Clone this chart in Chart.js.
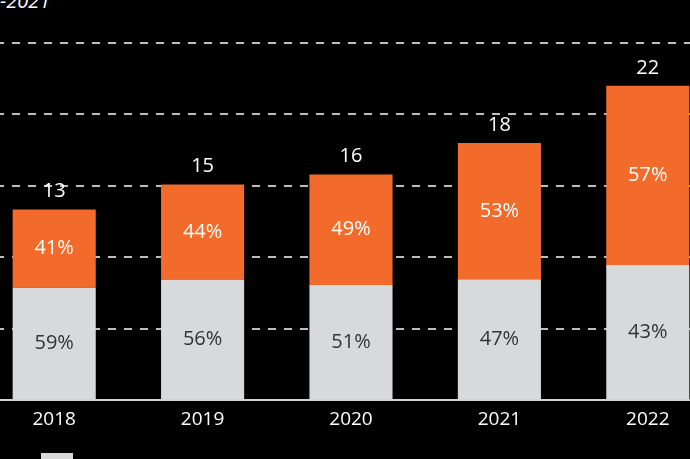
<!DOCTYPE html>
<html lang="en">
<head>
  <title>Stacked shares</title>
  <script src="https://cdn.jsdelivr.net/npm/chart.js"></script>
  <style>
    html, body { margin: 0; padding: 0; background: #000; overflow: hidden; }
    #wrap { position: relative; width: 690px; height: 459px; overflow: hidden; }
    #chartBox { position: absolute; left: -20px; top: 0; width: 742px; height: 459px; }
    #period { position: absolute; left: 0; top: -13px; color: #fff; font: italic 20px "Open Sans", sans-serif; line-height: 27px; }
    #legendBox { position: absolute; left: 41px; top: 453px; width: 32px; height: 20px; background: #d9d9d9; }
  </style>
</head>
<body>
  <div id="wrap">
    <div id="period">-2021</div>
    <div id="chartBox"><canvas id="myChart" width="742" height="459"></canvas></div>
    <div id="legendBox"></div>
  </div>
  <script>
    const years = ['2018', '2019', '2020', '2021', '2022'];
    const totals = [13.35, 15.1, 15.8, 18.0, 22.0];
    const totalLabels = ['13', '15', '16', '18', '22'];
    const greyShare = [59, 56, 51, 47, 43];
    const orangeShare = [41, 44, 49, 53, 57];

    const greyValues = totals.map((t, i) => t * greyShare[i] / 100);
    const orangeValues = totals.map((t, i) => t * orangeShare[i] / 100);

    const labelFont = '20px "Open Sans", sans-serif';

    // draws the percentages inside the segments and the totals on top
    const barLabels = {
      id: 'barLabels',
      afterDatasetsDraw(chart) {
        const ctx = chart.ctx;
        ctx.save();
        ctx.font = labelFont;
        ctx.textAlign = 'center';
        ctx.textBaseline = 'middle';
        const shares = [greyShare, orangeShare];
        const colors = ['#333333', '#ffffff'];
        chart.data.datasets.forEach((ds, d) => {
          chart.getDatasetMeta(d).data.forEach((bar, i) => {
            const p = bar.getProps(['x', 'y', 'base'], true);
            ctx.fillStyle = colors[d];
            ctx.fillText(shares[d][i] + '%', p.x, (p.y + p.base) / 2);
            if (d === 1) {
              ctx.fillStyle = '#ffffff';
              ctx.fillText(totalLabels[i], p.x, p.y - 18);
            }
          });
        });
        ctx.restore();
      }
    };

    const ctx = document.getElementById('myChart').getContext('2d');
    new Chart(ctx, {
      type: 'bar',
      data: {
        labels: years,
        datasets: [
          { label: 'grey', data: greyValues, backgroundColor: '#d8d9da' },
          { label: 'orange', data: orangeValues, backgroundColor: '#f26b2a' }
        ]
      },
      options: {
        responsive: false,
        animation: false,
        maintainAspectRatio: false,
        layout: { padding: { top: 43, bottom: 20, left: 0, right: 0 } },
        plugins: {
          legend: { display: false },
          tooltip: { enabled: false }
        },
        datasets: { bar: { barPercentage: 0.56, categoryPercentage: 1 } },
        scales: {
          x: {
            stacked: true,
            grid: { display: false, drawTicks: false },
            border: { display: true, color: '#d0d0d0', width: 2 },
            ticks: { color: '#ffffff', font: { family: 'Open Sans', size: 19 }, padding: 8 }
          },
          y: {
            stacked: true,
            min: 0,
            max: 25,
            ticks: { display: false, stepSize: 5 },
            border: { display: false, dash: [8, 8] },
            grid: {
              color: (c) => c.tick.value === 0 ? 'rgba(0,0,0,0)' : '#bdbdbd',
              lineWidth: 2,
              drawTicks: false
            }
          }
        }
      },
      plugins: [barLabels]
    });
  </script>
</body>
</html>
